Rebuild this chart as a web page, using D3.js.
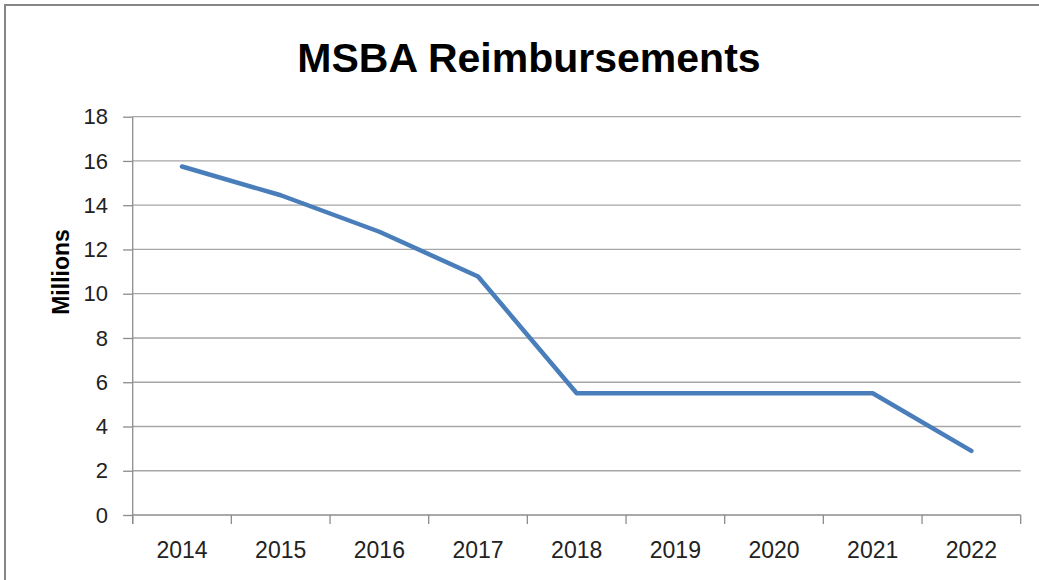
<!DOCTYPE html>
<html>
<head>
<meta charset="utf-8">
<script src="https://cdn.jsdelivr.net/npm/d3@7"></script>
<style>
  html, body { margin: 0; padding: 0; background: #fff; }
  svg { display: block; }
</style>
</head>
<body>
<svg id="chart" width="1039" height="580"></svg>
<script>
const title = "MSBA Reimbursements";
const yAxisTitle = "Millions";
const years = ["2014", "2015", "2016", "2017", "2018", "2019", "2020", "2021", "2022"];
const reimbursements = [15.75, 14.45, 12.8, 10.78, 5.5, 5.5, 5.5, 5.5, 2.9];
const yTickValues = [0, 2, 4, 6, 8, 10, 12, 14, 16, 18];

const svg = d3.select("#chart");
const W = 1039, H = 580;
const plot = { left: 132.7, right: 1020.7, top: 116.7, bottom: 515 };
const font = "'Liberation Sans', Arial, sans-serif";

// outer chart border (only top & left visible)
svg.append("rect")
  .attr("x", 5).attr("y", 5)
  .attr("width", W + 20).attr("height", H + 20)
  .attr("fill", "#fff")
  .attr("stroke", "#868686").attr("stroke-width", 2);

const x = d3.scaleBand().domain(years).range([plot.left, plot.right]);
const y = d3.scaleLinear().domain([0, 18]).range([plot.bottom, plot.top]);

// gridlines
svg.append("g").selectAll("line")
  .data(yTickValues.filter(v => v !== 0))
  .join("line")
  .attr("x1", plot.left).attr("x2", plot.right)
  .attr("y1", d => y(d)).attr("y2", d => y(d))
  .attr("stroke", "#a6a6a6").attr("stroke-width", 1.3);

// y axis
const yAxis = svg.append("g")
  .attr("transform", `translate(${plot.left},0)`)
  .call(d3.axisLeft(y).tickValues(yTickValues).tickSize(9.6).tickSizeOuter(0).tickPadding(15).tickFormat(d3.format("d")));
yAxis.select(".domain").remove();
yAxis.selectAll(".tick line").attr("stroke", "#8c8c8c").attr("stroke-width", 1.3);
yAxis.selectAll(".tick text")
  .attr("font-family", font).attr("font-size", 22).attr("fill", "#222");
svg.append("line")
  .attr("x1", plot.left).attr("x2", plot.left)
  .attr("y1", plot.top).attr("y2", plot.bottom + 9)
  .attr("stroke", "#8c8c8c").attr("stroke-width", 1.3);

// x axis
svg.append("line")
  .attr("x1", plot.left).attr("x2", plot.right)
  .attr("y1", plot.bottom).attr("y2", plot.bottom)
  .attr("stroke", "#8c8c8c").attr("stroke-width", 1.3);
const boundaries = years.map(d => x(d)).concat([x(years[years.length - 1]) + x.bandwidth()]);
svg.append("g").selectAll("line")
  .data(boundaries)
  .join("line")
  .attr("x1", d => d).attr("x2", d => d)
  .attr("y1", plot.bottom).attr("y2", plot.bottom + 9)
  .attr("stroke", "#8c8c8c").attr("stroke-width", 1.3);
const xAxis = svg.append("g")
  .attr("transform", `translate(0,${plot.bottom})`)
  .call(d3.axisBottom(x).tickSize(0).tickPadding(0));
xAxis.select(".domain").remove();
xAxis.selectAll(".tick text")
  .attr("dy", null).attr("y", 43)
  .attr("font-family", font).attr("font-size", 23).attr("fill", "#222");

// line
const line = d3.line()
  .x((d, i) => x(years[i]) + x.bandwidth() / 2)
  .y(d => y(d));
svg.append("path")
  .datum(reimbursements)
  .attr("d", line)
  .attr("fill", "none")
  .attr("stroke", "#4a7ebb")
  .attr("stroke-width", 4.5)
  .attr("stroke-linejoin", "round")
  .attr("stroke-linecap", "round");

// title
svg.append("text")
  .attr("x", 529).attr("y", 72)
  .attr("text-anchor", "middle")
  .attr("font-family", font).attr("font-weight", "bold")
  .attr("font-size", 41).attr("fill", "#000")
  .text(title);

// y axis title
svg.append("text")
  .attr("transform", "translate(69,272) rotate(-90)")
  .attr("text-anchor", "middle")
  .attr("font-family", font).attr("font-weight", "bold")
  .attr("font-size", 23).attr("fill", "#000")
  .text(yAxisTitle);
</script>
</body>
</html>
